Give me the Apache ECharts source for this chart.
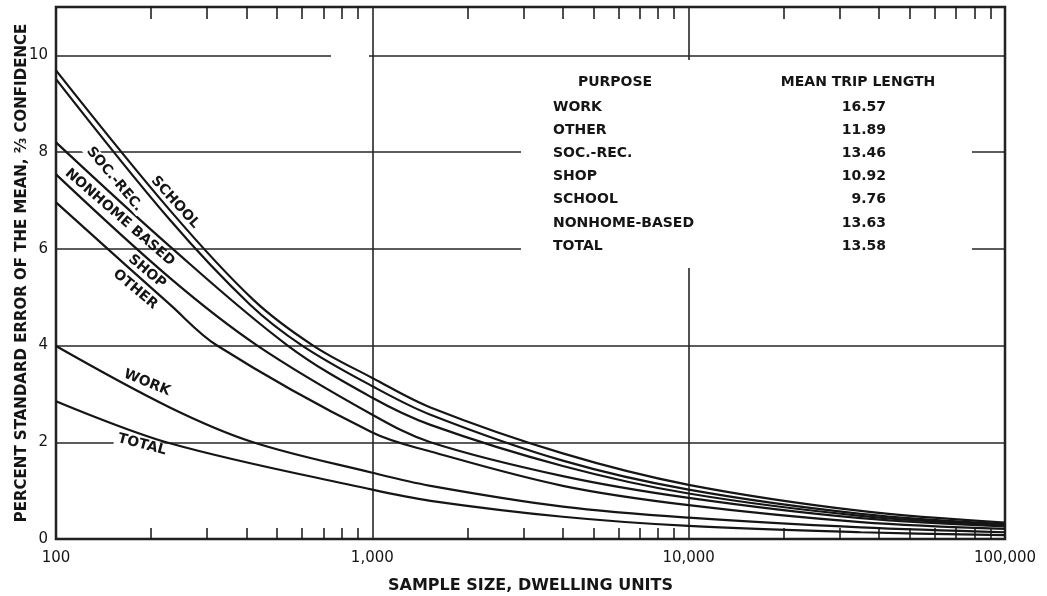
<!DOCTYPE html>
<html>
<head>
<meta charset="utf-8">
<script src="https://cdn.jsdelivr.net/npm/echarts@6/dist/echarts.min.js"></script>
<style>
  html, body { margin: 0; padding: 0; background: #fff; }
  #chart { width: 1047px; height: 596px; }
</style>
</head>
<body>
<div id="chart"></div>
<script>
// Percent standard error of the mean trip length (2/3 confidence)
// against sample size in dwelling units, one curve per trip purpose.
const school       = [[100, 9.69], [229, 6.8], [420, 4.95], [650, 4.0], [1000, 3.33], [1527, 2.72], [4000, 1.77], [10000, 1.12], [35000, 0.58], [100000, 0.34]];
const socRec       = [[100, 9.51], [229, 6.6], [410, 4.85], [600, 4.0], [1000, 3.16], [1527, 2.57], [4000, 1.62], [10000, 1.02], [35000, 0.52], [100000, 0.31]];
const nonhomeBased = [[100, 8.2], [229, 6.05], [540, 4.0], [1000, 2.92], [1527, 2.36], [4000, 1.51], [10000, 0.94], [35000, 0.48], [100000, 0.29]];
const shop         = [[100, 7.54], [229, 5.4], [433, 4.0], [1000, 2.57], [1527, 2.0], [4000, 1.30], [10000, 0.85], [35000, 0.43], [100000, 0.26]];
const other        = [[100, 6.96], [229, 4.85], [323, 4.0], [1000, 2.2], [1527, 1.81], [4000, 1.10], [10000, 0.70], [35000, 0.35], [100000, 0.21]];
const work         = [[100, 3.99], [229, 2.72], [420, 2.0], [1000, 1.37], [1527, 1.10], [4000, 0.67], [10000, 0.44], [35000, 0.24], [100000, 0.14]];
const total        = [[100, 2.85], [229, 1.98], [1000, 1.02], [1527, 0.79], [4000, 0.46], [10000, 0.27], [35000, 0.14], [100000, 0.08]];

// Minor log ticks (2..9 of each decade) along the top and bottom edges
const minorTicks = [200, 300, 400, 500, 600, 700, 800, 900,
                    2000, 3000, 4000, 5000, 6000, 7000, 8000, 9000,
                    20000, 30000, 40000, 50000, 60000, 70000, 80000, 90000];

// Inset table: purpose and mean trip length
const purposes    = ['WORK', 'OTHER', 'SOC.-REC.', 'SHOP', 'SCHOOL', 'NONHOME-BASED', 'TOTAL'];
const tripLengths = ['16.57', '11.89', '13.46', '10.92', '9.76', '13.63', '13.58'];

const INK = '#151515';
const GRID_INK = '#262626';
const FONT = 'DejaVu Sans';
const TABLE_FONT = 'bold 14px "DejaVu Sans"';

function curveLabel(text, n, v, rot, withBg) {
  return {
    silent: true,
    symbol: 'circle',
    symbolSize: 1,
    itemStyle: { color: 'rgba(0,0,0,0)' },
    label: {
      show: true,
      position: 'inside',
      formatter: text,
      rotate: rot,
      color: INK,
      fontFamily: FONT,
      fontSize: 14,
      fontWeight: 'bold',
      backgroundColor: withBg ? '#fff' : 'transparent',
      padding: withBg ? [0, 3] : 0
    },
    data: [{ coord: [n, v] }]
  };
}

function curve(name, data, mark) {
  return {
    name: name,
    type: 'line',
    xAxisIndex: 0,
    data: data,
    smooth: 0.35,
    showSymbol: false,
    symbol: 'none',
    lineStyle: { color: INK, width: 2.2 },
    z: 3,
    markPoint: mark
  };
}

const chart = echarts.init(document.getElementById('chart'), null, { renderer: 'canvas' });

const tableText = [];
tableText.push({ type: 'text', z: 6, x: 615, y: 82, style: { text: 'PURPOSE', fill: INK, font: TABLE_FONT, align: 'center', verticalAlign: 'middle' } });
tableText.push({ type: 'text', z: 6, x: 858, y: 82, style: { text: 'MEAN TRIP LENGTH', fill: INK, font: TABLE_FONT, align: 'center', verticalAlign: 'middle' } });
purposes.forEach(function (p, i) {
  const y = 107 + i * 23.2;
  tableText.push({ type: 'text', z: 6, x: 553, y: y, style: { text: p, fill: INK, font: TABLE_FONT, align: 'left', verticalAlign: 'middle' } });
  tableText.push({ type: 'text', z: 6, x: 886, y: y, style: { text: tripLengths[i], fill: INK, font: TABLE_FONT, align: 'right', verticalAlign: 'middle' } });
});

const logX = { type: 'log', logBase: 10, min: 100, max: 100000 };

const option = {
  animation: false,
  backgroundColor: '#fff',
  grid: {
    left: 56, right: 42, top: 7, bottom: 57,
    outerBoundsMode: 'none',
    containLabel: false,
    show: true, borderColor: INK, borderWidth: 2.5, backgroundColor: 'transparent'
  },
  xAxis: [
    Object.assign({}, logX, {
      position: 'bottom',
      name: 'SAMPLE SIZE, DWELLING UNITS', nameLocation: 'middle', nameGap: 39,
      nameTextStyle: { color: INK, fontFamily: FONT, fontSize: 16, fontWeight: 'bold' },
      axisLine: { show: false },
      axisTick: { show: true, inside: true, length: 11, customValues: minorTicks, lineStyle: { color: INK, width: 1.5 } },
      axisLabel: {
        color: INK, fontFamily: FONT, fontSize: 15, margin: 12,
        formatter: function (v) { return Math.round(v).toLocaleString('en-US'); }
      },
      splitLine: { show: false }
    }),
    Object.assign({}, logX, {
      position: 'top',
      axisLine: { show: false },
      axisTick: { show: true, inside: true, length: 12, customValues: minorTicks, lineStyle: { color: INK, width: 1.5 } },
      axisLabel: { show: false },
      splitLine: { show: false }
    }),
    // decade grid lines (1,000 and 10,000)
    Object.assign({}, logX, {
      position: 'bottom',
      axisLine: { show: false },
      axisTick: { show: false },
      axisLabel: { show: false },
      splitLine: { show: true, lineStyle: { color: GRID_INK, width: 1.6 } }
    })
  ],
  yAxis: {
    type: 'value', min: 0, max: 11, interval: 2,
    name: 'PERCENT STANDARD ERROR OF THE MEAN, \u2154 CONFIDENCE',
    nameLocation: 'middle', nameGap: 26, nameRotate: 90, nameMoveOverlap: false,
    nameTextStyle: { color: INK, fontFamily: FONT, fontSize: 15, fontWeight: 'bold' },
    axisLine: { show: false },
    axisTick: { show: false },
    axisLabel: {
      color: INK, fontFamily: FONT, fontSize: 15, margin: 8,
      formatter: function (v) { return v > 10 ? '' : String(v); }
    },
    splitLine: { show: true, lineStyle: { color: GRID_INK, width: 1.6 } }
  },
  graphic: [
    // clear band behind the inset table (interrupts the grid lines there)
    { type: 'rect', z: 1, silent: true, shape: { x: 521, y: 60, width: 451, height: 208 }, style: { fill: '#fff' } },
    // small break in the top grid line just left of the 1,000 line
    { type: 'rect', z: 1, silent: true, shape: { x: 331, y: 52, width: 38, height: 9 }, style: { fill: '#fff' } }
  ].concat(tableText),
  series: [
    curve('SCHOOL', school, curveLabel('SCHOOL', 238, 6.96, -48, false)),
    curve('SOC.-REC.', socRec, curveLabel('SOC.-REC.', 153, 7.44, -50, true)),
    curve('NONHOME-BASED', nonhomeBased, curveLabel('NONHOME BASED', 159, 6.65, -41, false)),
    curve('SHOP', shop, curveLabel('SHOP', 194, 5.53, -40, false)),
    curve('OTHER', other, curveLabel('OTHER', 178, 5.16, -40, false)),
    curve('WORK', work, curveLabel('WORK', 194, 3.23, -22, false)),
    curve('TOTAL', total, curveLabel('TOTAL', 187, 1.95, -15, true))
  ]
};

chart.setOption(option);
</script>
</body>
</html>
